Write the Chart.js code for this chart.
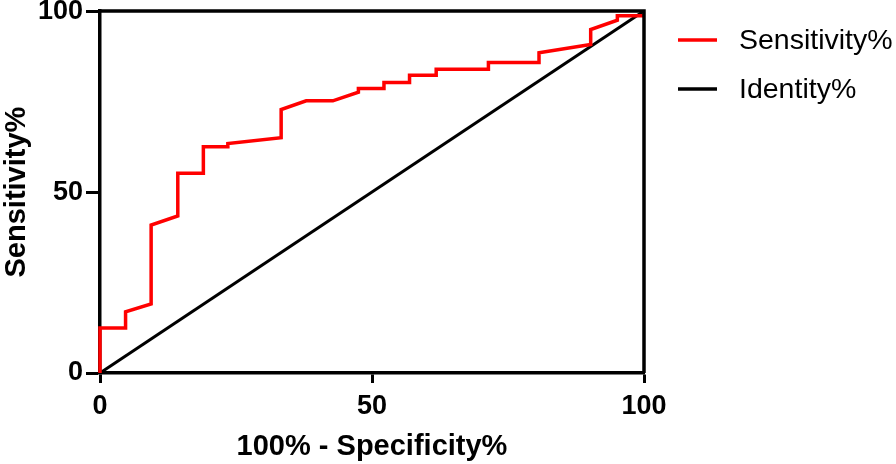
<!DOCTYPE html>
<html>
<head>
<meta charset="utf-8">
<script src="https://cdn.jsdelivr.net/npm/chart.js@4.4.1/dist/chart.umd.min.js"></script>
<style>
  html, body { margin: 0; padding: 0; background: #fff; }
  #wrap { width: 896px; height: 464px; }
</style>
</head>
<body>
<div id="wrap"><canvas id="c" width="896" height="464"></canvas></div>
<script>
// ROC curve: 100% - Specificity% (x) vs Sensitivity% (y)
const rocX = [0, 0, 4.7, 4.7, 9.4, 9.4, 14.3, 14.3, 19.0, 19.0, 23.5, 23.5, 33.3, 33.3, 37.9, 42.8, 47.5, 47.5, 52.2, 52.2, 56.9, 56.9, 61.8, 61.8, 71.4, 71.4, 80.7, 80.7, 90.2, 90.2, 95.1, 95.1, 100];
const rocY = [0, 12.4, 12.4, 16.9, 19.1, 40.9, 43.4, 55.2, 55.2, 62.5, 62.5, 63.4, 65.0, 72.8, 75.2, 75.2, 77.6, 78.6, 78.6, 80.3, 80.3, 82.3, 82.3, 83.9, 83.9, 85.8, 85.8, 88.5, 90.8, 94.9, 97.5, 98.7, 98.7];
const identityX = [0, 100];
const identityY = [0, 100];
const seriesLabels = ["Sensitivity%", "Identity%"];
const seriesColors = ["#ff0000", "#000000"];
const tickValues = [0, 50, 100];
const xTitle = "100% - Specificity%";
const yTitle = "Sensitivity%";

const toPts = (xs, ys) => xs.map((x, i) => ({ x: x, y: ys[i] }));

const FONT = "'Liberation Sans', Arial, sans-serif";

const framePlugin = {
  id: 'frame',
  afterDatasetsDraw(chart) {
    const { ctx, chartArea: a } = chart;
    ctx.save();
    ctx.strokeStyle = '#000';
    ctx.lineWidth = 3.5;
    ctx.beginPath();
    ctx.moveTo(a.left - 1.5, a.top);
    ctx.lineTo(a.right, a.top);
    ctx.lineTo(a.right, a.bottom);
    ctx.stroke();
    ctx.restore();
  }
};

const legendPlugin = {
  id: 'customLegend',
  afterDraw(chart) {
    const { ctx } = chart;
    const ys = [40, 89];
    ctx.save();
    chart.data.datasets.forEach((ds, i) => {
      ctx.strokeStyle = ds.borderColor;
      ctx.lineWidth = 3.5;
      ctx.beginPath();
      ctx.moveTo(678, ys[i]);
      ctx.lineTo(717, ys[i]);
      ctx.stroke();
      ctx.fillStyle = '#000';
      ctx.font = "28.5px " + FONT;
      ctx.textBaseline = 'middle';
      ctx.textAlign = 'left';
      ctx.fillText(ds.label, 739, ys[i] + 1);
    });
    ctx.restore();
  }
};

new Chart(document.getElementById('c'), {
  type: 'scatter',
  data: {
    datasets: [
      {
        label: seriesLabels[0],
        data: toPts(rocX, rocY),
        showLine: true,
        borderColor: seriesColors[0],
        backgroundColor: seriesColors[0],
        borderWidth: 3.5,
        pointRadius: 0,
        tension: 0,
        clip: false
      },
      {
        label: seriesLabels[1],
        data: toPts(identityX, identityY),
        showLine: true,
        borderColor: seriesColors[1],
        backgroundColor: seriesColors[1],
        borderWidth: 3,
        pointRadius: 0,
        tension: 0,
        clip: false
      }
    ]
  },
  options: {
    responsive: false,
    animation: false,
    devicePixelRatio: 1,
    layout: { padding: { left: 0, right: 252, top: 10, bottom: 0 } },
    plugins: {
      legend: { display: false },
      tooltip: { enabled: false }
    },
    scales: {
      x: {
        type: 'linear',
        min: 0, max: 100,
        afterFit(s) { s.height = 91; },
        afterBuildTicks(s) { s.ticks = tickValues.map(v => ({ value: v })); },
        border: { display: true, color: '#000', width: 3.5 },
        grid: { display: true, drawOnChartArea: false, drawTicks: true, tickLength: 10, tickWidth: 3, tickColor: '#000' },
        ticks: { color: '#000', padding: 7, font: { family: FONT, size: 27, weight: 'bold', lineHeight: 1.2 } },
        title: { display: true, text: xTitle, color: '#000', padding: { top: 4, bottom: 0 }, font: { family: FONT, size: 29, weight: 'bold', lineHeight: 1.2 } }
      },
      y: {
        type: 'linear',
        min: 0, max: 100,
        afterFit(s) { s.width = 100; },
        afterBuildTicks(s) { s.ticks = tickValues.map(v => ({ value: v })); },
        border: { display: true, color: '#000', width: 3.5 },
        grid: { display: true, drawOnChartArea: false, drawTicks: true, tickLength: 14, tickWidth: 3, tickColor: '#000' },
        ticks: { color: '#000', padding: 3, font: { family: FONT, size: 27, weight: 'bold', lineHeight: 0.6 } },
        title: { display: true, text: yTitle, color: '#000', padding: { top: 0, bottom: 4 }, font: { family: FONT, size: 29, weight: 'bold', lineHeight: 1.2 } }
      }
    }
  },
  plugins: [framePlugin, legendPlugin]
});
</script>
</body>
</html>
